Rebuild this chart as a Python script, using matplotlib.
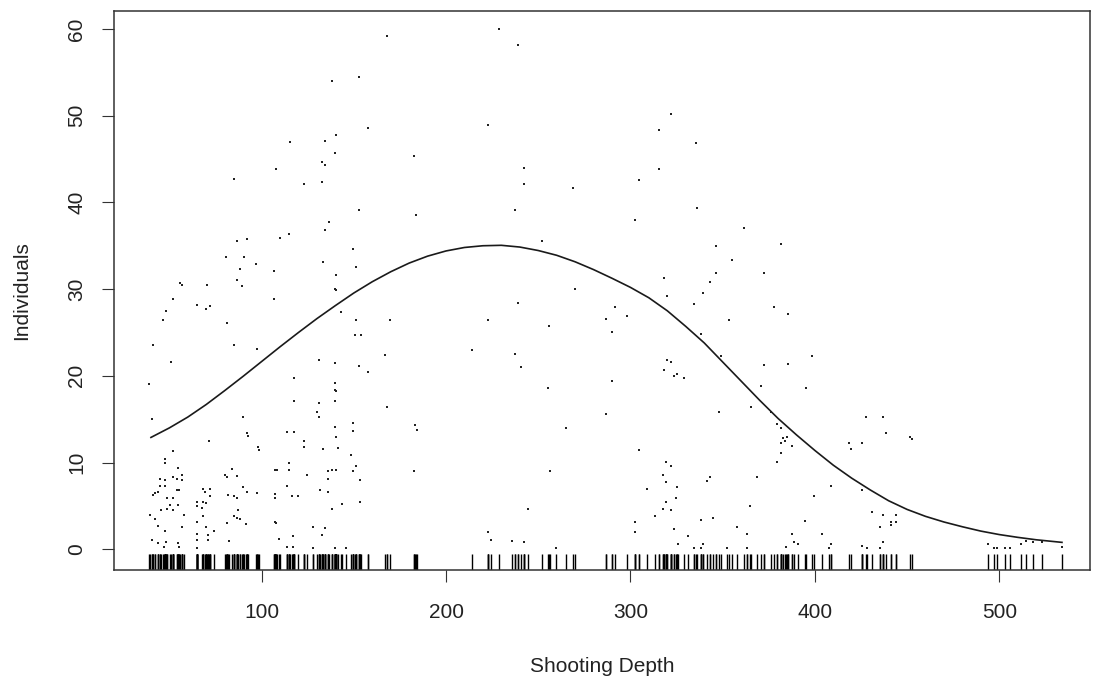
import matplotlib
matplotlib.use('Agg')
import matplotlib.pyplot as plt

plt.rcParams['font.family'] = ['Liberation Sans', 'DejaVu Sans']

depth = [
    115.4, 107.6, 85.2, 123.0, 114.9, 110.0, 86.8, 92.2, 80.7, 90.5, 97.0, 88.4, 106.9, 86.8, 89.5,
    55.7, 57.0, 70.6, 51.8, 106.9, 48.2, 65.1, 72.0, 69.8, 46.7, 81.4, 41.3, 85.2, 97.3, 50.7, 117.7,
    39.1, 40.7, 89.8, 92.2, 92.6, 71.6, 98.2, 98.4, 117.6, 113.9, 117.6, 123.0, 123.0, 52.1, 47.6,
    47.6, 54.5, 44.9, 47.6, 47.6, 45.1, 51.8, 54.0, 56.7, 56.7, 55.2, 54.0, 40.9, 42.2, 43.6, 48.5,
    51.8, 50.3, 54.8, 45.3, 48.5, 51.8, 39.3, 57.8, 42.4, 43.7, 56.7, 47.6, 40.7, 43.7, 48.2, 54.5,
    46.9, 55.4,
    68.1, 69.4, 72.1, 68.4, 64.8, 65.1, 69.6, 67.7, 71.9, 68.4, 64.8, 69.6, 74.1, 65.1, 70.9, 65.1,
    70.9, 65.1,
    80.2, 81.1, 83.8, 86.8, 81.7, 85.1, 86.8, 89.7, 92.2, 97.3, 87.3, 85.2, 86.5, 88.3, 81.4, 91.8, 82.3,
    107.3, 108.6, 114.6, 114.6, 124.5, 107.3, 107.3, 113.6, 116.4, 119.6, 107.0, 107.7, 109.7, 116.8,
    113.6, 116.8,
    139.8, 139.8, 140.3, 139.8, 131.3, 129.9, 131.3, 168.2, 149.7, 149.7, 139.8, 140.3, 141.6, 133.5,
    148.3, 183.2, 184.1, 255.5, 264.9, 151.2, 135.8, 138.3, 140.3, 149.7, 135.8, 153.2, 182.8, 256.4,
    131.4, 135.8, 138.3, 143.8, 153.2, 244.3, 128.0, 134.4, 132.9, 222.9, 224.2, 236.0, 242.5, 128.0,
    139.8, 145.8, 259.7,
    228.9, 168.2, 238.9, 138.0, 152.8, 157.5, 222.9, 140.3, 134.4, 139.8, 182.8, 132.9, 134.4, 242.5,
    132.9, 242.5, 152.8, 183.6, 237.4, 136.7, 134.4, 252.2, 149.7, 133.5, 151.2, 140.3, 139.8, 140.3,
    238.9, 142.9, 151.2, 169.6, 222.9, 256.0, 150.7, 153.7, 214.3, 166.9, 237.4, 131.3, 139.8, 153.0,
    240.5, 157.9,
    321.9, 315.7, 335.6, 315.7, 304.8, 268.7, 336.3, 302.5, 361.8, 346.3, 381.5, 354.9, 346.3, 372.5,
    343.2, 318.2, 339.5, 270.0, 319.7, 334.6, 291.6, 377.9, 298.0, 385.6, 286.6, 353.3, 290.2, 338.1,
    349.0, 398.6, 385.6, 372.6, 319.7, 321.9, 318.2, 323.7, 325.1, 329.2, 290.2, 370.9, 395.1,
    286.6, 348.0, 365.4, 376.3, 379.3, 381.7, 382.6, 384.8, 383.9, 381.7, 387.8, 381.7, 379.3, 418.7,
    419.5, 304.8, 319.3, 321.9, 317.8, 319.1, 325.1, 308.8, 368.5, 343.2, 341.7, 408.6, 399.7, 324.9,
    319.3, 317.8, 321.9, 364.9, 313.5, 338.1, 345.0, 394.9, 302.5, 302.5, 323.4, 358.0, 331.2, 363.4,
    387.8, 404.1, 325.7, 339.6, 388.8, 391.0, 408.6, 334.6, 338.1, 352.2, 363.4, 384.1, 407.9,
    427.8, 436.8, 438.6, 425.4, 451.6, 452.5, 425.4, 430.9, 436.8, 444.0, 435.1, 441.3, 441.3, 444.0,
    436.8, 425.4, 428.4, 435.1, 493.8, 511.8, 514.4, 518.5, 523.0, 533.9, 497.0, 499.0, 503.0, 505.8,
]
individuals = [
    47.0, 43.9, 42.7, 42.1, 36.4, 35.9, 35.6, 35.8, 33.7, 33.7, 32.9, 32.3, 32.1, 31.0, 30.4,
    30.7, 30.5, 30.5, 28.9, 28.9, 27.5, 28.2, 28.1, 27.7, 26.4, 26.1, 23.5, 23.5, 23.1, 21.6, 19.7,
    19.1, 15.0, 15.3, 13.4, 13.1, 12.5, 11.8, 11.5, 17.1, 13.5, 13.5, 12.5, 11.8, 11.3, 10.4,
    9.9, 9.4, 8.1, 8.0, 7.3, 7.3, 8.3, 8.1, 8.0, 8.6, 6.8, 6.8, 6.3, 6.5, 6.6, 5.9,
    5.9, 5.1, 5.1, 4.5, 4.6, 4.5, 4.0, 4.0, 3.5, 2.7, 2.6, 2.1, 1.1, 0.7, 0.9, 0.7,
    0.3, 0.3,
    7.0, 6.6, 7.0, 5.5, 5.5, 5.0, 5.3, 4.8, 6.2, 3.8, 3.2, 2.6, 2.1, 1.8, 1.6, 1.1,
    1.1, 0.1,
    8.6, 8.3, 9.3, 8.5, 6.3, 6.1, 5.9, 7.2, 6.6, 6.5, 4.5, 3.8, 3.6, 3.5, 3.0, 2.9, 1.0,
    9.1, 9.1, 9.1, 10.0, 8.6, 6.4, 5.9, 7.3, 6.1, 6.2, 3.1, 3.0, 1.2, 1.5,
    0.3, 0.3,
    19.2, 18.4, 18.3, 17.1, 16.9, 15.8, 15.3, 16.4, 14.6, 13.6, 14.1, 12.9, 11.7, 11.6,
    10.9, 14.3, 13.8, 18.6, 14.0, 9.6, 9.0, 9.1, 9.1, 9.0, 8.1, 8.0, 9.0, 9.0,
    6.8, 6.6, 4.7, 5.2, 5.4, 4.7, 2.6, 2.4, 1.6, 2.0, 1.1, 1.0, 0.8, 0.1,
    0.1, 0.1, 0.1,
    60.0, 59.2, 58.1, 54.0, 54.5, 48.6, 48.9, 47.8, 47.1, 45.7, 45.4, 44.7, 44.3, 44.0,
    42.3, 42.1, 39.1, 38.6, 39.1, 37.7, 36.8, 35.6, 34.6, 33.1, 32.5, 31.6, 30.0, 29.9,
    28.4, 27.4, 26.4, 26.4, 26.4, 25.8, 24.7, 24.7, 23.0, 22.4, 22.5, 21.8, 21.5, 21.1,
    21.0, 20.4,
    50.2, 48.4, 46.9, 43.9, 42.6, 41.7, 39.4, 38.0, 37.1, 35.0, 35.2, 33.3, 31.9, 31.9,
    30.8, 31.3, 29.6, 30.0, 29.2, 28.3, 27.9, 27.9, 26.9, 27.1, 26.6, 26.4, 25.1, 24.8,
    22.3, 22.3, 21.4, 21.2, 21.8, 21.6, 20.7, 20.0, 20.2, 19.8, 19.4, 18.8, 18.6,
    15.6, 15.8, 16.4, 15.8, 14.4, 14.0, 12.8, 13.0, 12.5, 12.2, 11.9, 11.1, 10.1, 12.3,
    11.6, 11.4, 10.1, 9.6, 8.6, 7.8, 7.2, 7.0, 8.3, 8.3, 7.9, 7.3, 6.1, 5.9,
    5.5, 4.7, 4.5, 5.0, 3.8, 3.4, 3.6, 3.3, 3.1, 2.0, 2.3, 2.6, 1.5, 1.8,
    1.8, 1.8, 0.6, 0.6, 0.8, 0.6, 0.6, 0.1, 0.1, 0.1, 0.1, 0.3, 0.1,
    15.2, 15.2, 13.4, 12.3, 13.0, 12.7, 6.8, 4.3, 3.9, 3.9, 2.6, 3.1, 2.8, 3.1,
    0.8, 0.4, 0.1, 0.1, 0.6, 0.6, 1.0, 0.9, 0.9, 0.3, 0.2, 0.2, 0.2, 0.2,
]

# fitted smooth curve, read every 10 units of depth
curve_depth = [40, 50, 60, 70, 80, 90, 100, 110, 120, 130, 140, 150, 160, 170, 180, 190,
               200, 210, 220, 230, 240, 250, 260, 270, 280, 290, 300, 310, 320, 330,
               340, 350, 360, 370, 380, 390, 400, 410, 420, 430, 440, 450, 460, 470,
               480, 490, 500, 510, 520, 534]
curve_fit = [12.9, 14.0, 15.25, 16.7, 18.3, 19.95, 21.65, 23.35, 25.0, 26.6, 28.1, 29.55,
             30.85, 32.0, 33.0, 33.8, 34.4, 34.8, 35.0, 35.05, 34.85, 34.45, 33.9, 33.15,
             32.25, 31.25, 30.2, 29.0, 27.5, 25.7, 23.8, 21.6, 19.4, 17.2, 15.1, 13.2,
             11.4, 9.7, 8.2, 6.85, 5.6, 4.6, 3.8, 3.15, 2.6, 2.1, 1.7, 1.38, 1.1, 0.8]

x_ticks = [100, 200, 300, 400, 500]
y_ticks = [0, 10, 20, 30, 40, 50, 60]

W, H = 1094, 683
fig = plt.figure(figsize=(W / 100, H / 100), dpi=100)
left, right, top, bottom = 113.7, 1090, 10.7, 570.3
ax = fig.add_axes([left / W, 1 - bottom / H, (right - left) / W, (bottom - top) / H])

ink = '#222222'
ax.plot(depth, individuals, linestyle='none', marker='s', ms=1.5, mew=0, color=ink)
ax.plot(curve_depth, curve_fit, color='#1a1a1a', lw=1.2)
ax.vlines(depth, 0, 0.03, transform=ax.get_xaxis_transform(), lw=1.0, color='black')

ax.set_xlim(19.8, 549.2)
ax.set_ylim(-2.42, 62.1)
ax.set_xticks(x_ticks)
ax.set_yticks(y_ticks)
for s in ax.spines.values():
    s.set_linewidth(1.1)
    s.set_color('#333333')
ax.tick_params(direction='out', length=8.6, width=0.8, color='#333333', labelsize=15, labelcolor=ink)
ax.tick_params(axis='x', pad=15)
ax.tick_params(axis='y', pad=11, labelrotation=90)
for lab in ax.get_yticklabels():
    lab.set_va('center')

fig.text(602 / W, 1 - 666 / H, 'Shooting Depth', ha='center', va='center', fontsize=15, color=ink)
fig.text(22 / W, 1 - 291 / H, 'Individuals', ha='center', va='center', rotation=90, fontsize=15, color=ink)

fig.savefig('out.png', dpi=100)
